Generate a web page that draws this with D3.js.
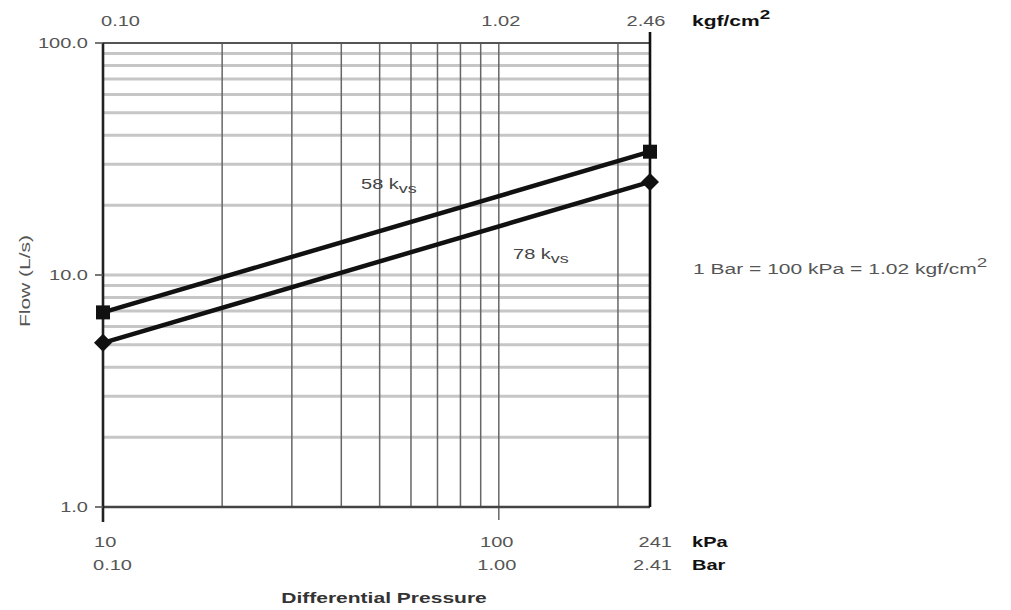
<!DOCTYPE html>
<html><head><meta charset="utf-8">
<script src="https://cdn.jsdelivr.net/npm/d3@7"></script>
<style>body{margin:0;background:#fff}svg{display:block}text{font-family:"Liberation Sans",Arial,sans-serif}</style>
</head><body>
<script>
// ---- data ----
const pressureKPa = [10, 241];
const flow58 = [6.9, 34];
const flow78 = [5.1, 25.2];
const kpaTicks = [10, 100, 241];
const kpaLabels = ["10", "100", "241"];
const barLabels = ["0.10", "1.00", "2.41"];
const kgfLabels = ["0.10", "1.02", "2.46"];
const flowTicks = [1, 10, 100];
const flowLabels = ["1.0", "10.0", "100.0"];

const W = 1011, H = 610;
const m = {left: 103, right: 650, top: 43, bottom: 507};
const svg = d3.select("body").append("svg").attr("width", W).attr("height", H);
svg.append("rect").attr("width", W).attr("height", H).attr("fill", "#fff");

const x = d3.scaleLog().domain([10, 241]).range([m.left, m.right]);
const y = d3.scaleLog().domain([1, 100]).range([m.bottom, m.top]);

const SX = 1.38, FS = 14.5;
function txt(px, py, anchor, opts = {}) {
  const g = svg.append("g").attr("transform", `translate(${px},${py}) scale(${opts.sx || SX},1)`);
  const t = g.append("text").attr("text-anchor", anchor)
    .attr("font-size", opts.fs || FS).attr("fill", opts.fill || "#555")
    .attr("font-weight", opts.fw || "normal").attr("dominant-baseline", "middle");
  return t;
}

// horizontal gridlines
const yt = y.ticks().filter(v => v > 1 && v < 100);
svg.append("g").selectAll("line").data(yt).join("line")
  .attr("x1", m.left).attr("x2", m.right).attr("y1", d => y(d)).attr("y2", d => y(d))
  .attr("stroke", "#c6c6c6").attr("stroke-width", 3);

// vertical gridlines
const xt = x.ticks().filter(v => v > 10);
svg.append("g").selectAll("line").data(xt).join("line")
  .attr("x1", d => x(d)).attr("x2", d => x(d))
  .attr("y1", m.top).attr("y2", d => d === 100 ? m.bottom + 13 : m.bottom)
  .attr("stroke", "#666").attr("stroke-width", 1.5);

// borders
svg.append("line").attr("x1", m.left).attr("x2", m.right).attr("y1", m.top).attr("y2", m.top)
  .attr("stroke", "#555").attr("stroke-width", 2.2);
svg.append("line").attr("x1", m.left).attr("x2", m.right).attr("y1", m.bottom).attr("y2", m.bottom)
  .attr("stroke", "#444").attr("stroke-width", 2.4);
svg.append("line").attr("x1", m.left).attr("x2", m.left).attr("y1", m.top).attr("y2", m.bottom + 15)
  .attr("stroke", "#222").attr("stroke-width", 2.6);
svg.append("line").attr("x1", m.right).attr("x2", m.right).attr("y1", m.top - 11).attr("y2", m.bottom)
  .attr("stroke", "#111").attr("stroke-width", 2.6);

// y ticks & labels
flowTicks.forEach((v, i) => {
  svg.append("line").attr("x1", m.left - 8).attr("x2", m.left).attr("y1", y(v)).attr("y2", y(v))
    .attr("stroke", "#555").attr("stroke-width", 1.6);
  txt(m.left - 15, y(v) + 1, "end").text(flowLabels[i]);
});

// y title
svg.append("g").attr("transform", `translate(26,${(m.top + m.bottom) / 2 + 6}) rotate(-90) scale(1.45,1)`)
  .append("text").attr("text-anchor", "middle").attr("dominant-baseline", "middle")
  .attr("font-size", 14.5).attr("fill", "#555").text("Flow (L/s)");

// bottom labels
const anchors = ["start", "middle", "end"];
const offs = [-9, -2, 22];
kpaTicks.forEach((v, i) => {
  txt(x(v) + offs[i], 543, anchors[i]).text(kpaLabels[i]);
  txt(x(v) + offs[i] + (i === 0 ? -1 : 0), 566, anchors[i]).text(barLabels[i]);
});
txt(692, 543, "start", {fill: "#111", fw: "bold"}).text("kPa");
txt(692, 566, "start", {fill: "#111", fw: "bold"}).text("Bar");
txt(384, 599, "middle", {fill: "#333", fw: "bold", sx: 1.45}).text("Differential Pressure");

// top labels
const topOffs = [-2, 2, -4];
kpaTicks.forEach((v, i) => {
  txt(x(v) + topOffs[i], 22, i === 0 ? "start" : "middle").text(kgfLabels[i]);
});
{
  const t = txt(692, 22, "start", {fill: "#111", fw: "bold", sx: 1.45});
  t.append("tspan").text("kgf/cm");
  t.append("tspan").attr("dy", -6).attr("font-size", 13).text("2");
}

// note
{
  const t = txt(693, 270, "start", {sx: 1.45});
  t.append("tspan").text("1 Bar = 100 kPa = 1.02 kgf/cm");
  t.append("tspan").attr("dy", -6).attr("font-size", 13).text("2");
}

// series
const line = d3.line().x((d, i) => x(pressureKPa[i])).y(d => y(d));
svg.append("path").datum(flow58).attr("d", line).attr("fill", "none").attr("stroke", "#111").attr("stroke-width", 4.5);
svg.append("path").datum(flow78).attr("d", line).attr("fill", "none").attr("stroke", "#111").attr("stroke-width", 4.5);

svg.append("g").selectAll("rect").data(flow58).join("rect")
  .attr("x", (d, i) => x(pressureKPa[i]) - 7).attr("y", d => y(d) - 7)
  .attr("width", 14).attr("height", 14).attr("fill", "#111");
svg.append("g").selectAll("path").data(flow78).join("path")
  .attr("transform", (d, i) => `translate(${x(pressureKPa[i])},${y(d)})`)
  .attr("d", "M0,-9L9,0L0,9L-9,0Z").attr("fill", "#111");

// series labels
function kvs(px, py, num) {
  const t = txt(px, py, "start", {fill: "#444"});
  t.append("tspan").text(num + " k");
  t.append("tspan").attr("dy", 5).attr("font-size", 13).text("vs");
}
kvs(361, 185, "58");
kvs(513, 255, "78");
</script>
</body></html>
